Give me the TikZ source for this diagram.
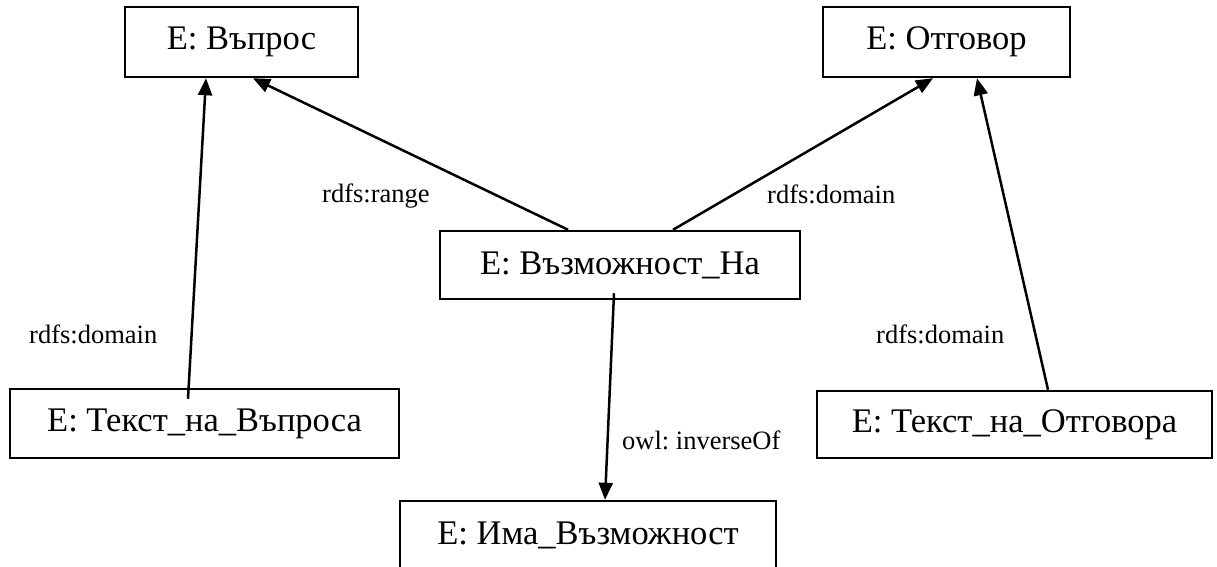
\documentclass[tikz,border=0pt]{standalone}
\usepackage{fontspec}
\setmainfont{Liberation Serif}
\usetikzlibrary{arrows.meta}
\frenchspacing
\begin{document}
\begin{tikzpicture}[x=1pt,y=-1pt,
  entity/.style={draw, line width=2.5pt, inner sep=0pt, align=center,
    font=\fontsize{34.5}{40}\selectfont},
  rel/.style={line width=2.5pt, -{Triangle[length=17pt,width=14pt]}},
  lbl/.style={inner sep=0pt, anchor=base west, font=\fontsize{26.5}{30}\selectfont}]
\useasboundingbox (0,0) rectangle (1217,566);

% entities
\node[entity, minimum width=233pt, minimum height=70pt] (q)  at (241.5,42)  {E: Въпрос};
\node[entity, minimum width=247pt, minimum height=70pt] (a)  at (946.5,42)  {E: Отговор};
\node[entity, minimum width=360pt, minimum height=68pt] (p)  at (620,265)   {E: Възможност\_На};
\node[entity, minimum width=389pt, minimum height=69pt] (tq) at (204.5,423.5) {E: Текст\_на\_Въпроса};
\node[entity, minimum width=395pt, minimum height=67pt] (ta) at (1014.5,424.5) {E: Текст\_на\_Отговора};
\node[entity, minimum width=376pt, minimum height=68pt] (h)  at (588,535)   {E: Има\_Възможност};

% relations
\draw[rel] ([xshift=-16.5pt,yshift=-11pt]tq.north) -- ([xshift=-35.5pt]q.south);
\draw[rel] ([xshift=-52pt]p.north) -- ([xshift=11.5pt]q.south);
\draw[rel] ([xshift=53pt]p.north) -- ([xshift=-13.5pt]a.south);
\draw[rel] ([xshift=33.5pt]ta.north) -- ([xshift=30.5pt]a.south);
\draw[rel] ([xshift=-6pt,yshift=7pt]p.south) -- ([xshift=17pt]h.north);

% relation labels
\node[lbl] (l1) at (322,202) {rdfs:range};
\node[lbl] (l2) at (767,203) {rdfs:domain};
\node[lbl] (l3) at (29,343)  {rdfs:domain};
\node[lbl] (l4) at (876,343) {rdfs:domain};
\node[lbl] (l5) at (622,449) {owl: inverseOf};
\end{tikzpicture}
\end{document}
